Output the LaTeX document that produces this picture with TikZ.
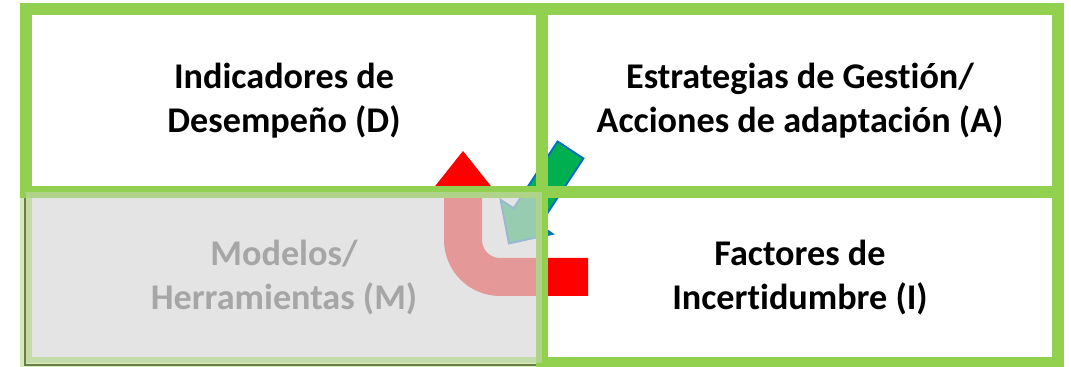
\documentclass[tikz,border=0pt]{standalone}
\usepackage{fontspec}
\setmainfont{Carlito}[Ligatures={NoCommon}]
\usetikzlibrary{positioning}

\definecolor{leafgreen}{HTML}{92D050}
\definecolor{turnred}{HTML}{FF0000}
\definecolor{blockgreen}{HTML}{00B050}
\definecolor{blockblue}{HTML}{0070C0}
\definecolor{panelgray}{HTML}{D9D9D9}
\definecolor{fadedtext}{HTML}{A6A6A6}
\definecolor{shadowolive}{HTML}{4F6228}

\begin{document}
\begin{tikzpicture}[x=0.02cm,y=-0.02cm,
    cell/.style={rectangle,draw=leafgreen,line width=6.8pt,minimum width=10.32cm,align=center,
        font=\fontsize{20.6}{25.3}\selectfont\bfseries,inner sep=0pt},
    tallcell/.style={cell,minimum height=3.66cm},
    lowcell/.style={cell,minimum height=3.42cm}
]
\useasboundingbox (0,0) rectangle (1071,367);

% === U-turn arrow (red) ===
\fill[turnred] (588,258) -- (500,258) .. controls (490.06,258) and (482,249.94) .. (482,240)
    -- (482,195) -- (498,195) -- (463,151) -- (428,195) -- (444,195) -- (444,240)
    .. controls (444,270.9) and (469.1,296) .. (500,296) -- (588,296) -- cycle;

% === Block arrow (green) ===
\draw[blockblue,fill=blockgreen,line width=1.1pt,line join=miter]
    (557.6,141.5) -- (513.6,208.3) -- (500.6,199.8) -- (508.9,243.5)
    -- (552.4,233.9) -- (539.4,225.3) -- (583.4,158.5) -- cycle;

% === Top row ===
\node[tallcell] (perf) at (284,100.5) {Indicadores de\\Desempeño (D)};
\node[tallcell] (strat) at (800,100.5) {Estrategias de Gestión/\\Acciones de adaptación (A)};

% === Bottom row ===
\node[lowcell] (uncert) at (800,277.5) {Factores de\\Incertidumbre (I)};
\node[lowcell,fill=panelgray,fill opacity=0.7,draw opacity=0.4,text=fadedtext,text opacity=1]
    (tools) at (284,277.5) {Modelos/\\Herramientas (M)};

% shadow edge of the faded panel
\draw[shadowolive,line width=0.6pt,opacity=0.8] (25,198) -- (25,365) -- (536,365);

\end{tikzpicture}
\end{document}
